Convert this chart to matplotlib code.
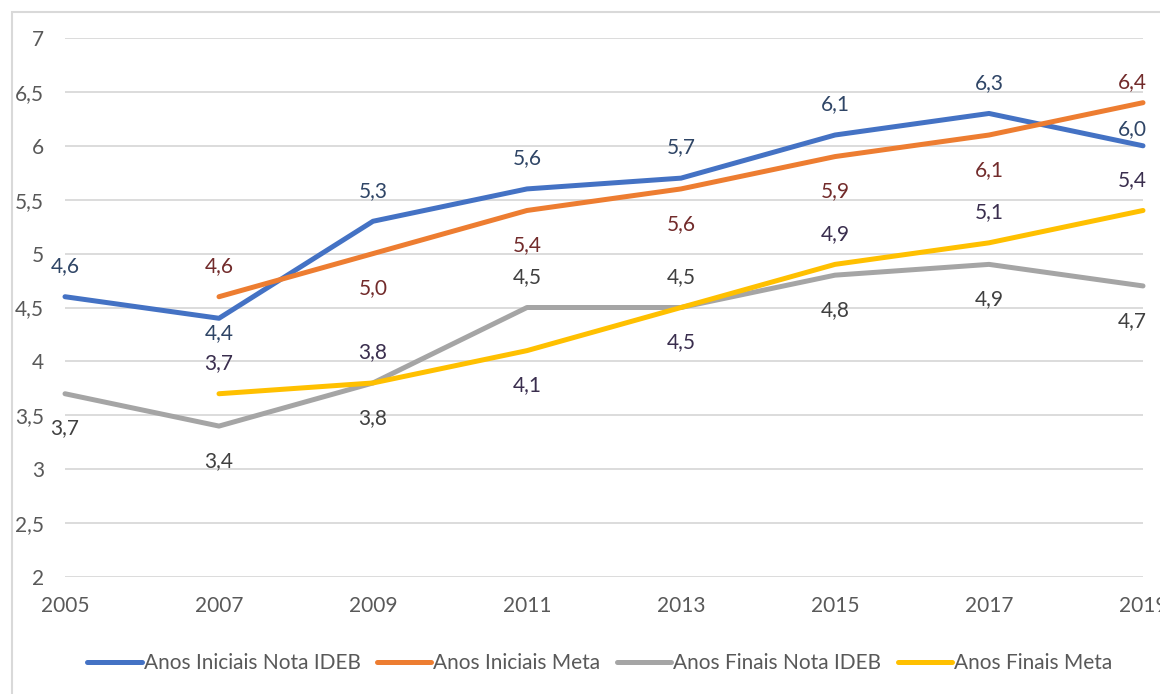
import matplotlib
matplotlib.use("Agg")
import matplotlib.pyplot as plt
from matplotlib.patches import Rectangle

plt.rcParams['font.family'] = ['Lato', 'DejaVu Sans']

anos = [2005, 2007, 2009, 2011, 2013, 2015, 2017, 2019]
iniciais_nota = [4.6, 4.4, 5.3, 5.6, 5.7, 6.1, 6.3, 6.0]
iniciais_meta = [None, 4.6, 5.0, 5.4, 5.6, 5.9, 6.1, 6.4]
finais_nota = [3.7, 3.4, 3.8, 4.5, 4.5, 4.8, 4.9, 4.7]
finais_meta = [None, 3.7, 3.8, 4.1, 4.5, 4.9, 5.1, 5.4]
nomes = ["Anos Iniciais Nota IDEB", "Anos Iniciais Meta",
         "Anos Finais Nota IDEB", "Anos Finais Meta"]
yticks = [2, 2.5, 3, 3.5, 4, 4.5, 5, 5.5, 6, 6.5, 7]

series = [iniciais_nota, iniciais_meta, finais_nota, finais_meta]
cores = ["#4472C4", "#ED7D31", "#A5A5A5", "#FFC000"]
cores_rot = ["#2F4566", "#722B2B", "#404040", "#3A2E4E"]
# label offsets in points (positive above, negative below)
A, B = 22, -25
deslocamentos = [
    [A, -11, A, A, A, A, A, 12],
    [A, A, B, B, B, B, B, 15],
    [B, B, B, A, A, B, B, B],
    [A, A, A, B, B, A, A, A],
]
FS = 15

fig = plt.figure(figsize=(11.6, 6.94), dpi=100)
fig.patches.append(Rectangle((12/1160, -0.1), 1.2, 1.1 - 12/694,
                             transform=fig.transFigure, fill=False,
                             edgecolor="#D9D9D9", lw=1.5))
ax = fig.add_axes([65/1160, 1 - 577/694, (1143 - 65)/1160, (577 - 38)/694])
ax.set_xlim(2005, 2019)
ax.set_ylim(2, 7)
ax.set_yticks(yticks)
ax.set_yticklabels([f"{v:g}".replace(".", ",") for v in yticks])
ax.set_xticks(anos)
ax.set_xticklabels([str(a) for a in anos])
for s in ax.spines.values():
    s.set_visible(False)
ax.grid(axis='y', color="#D9D9D9", lw=1.3)
ax.set_axisbelow(True)
ax.tick_params(length=0, labelsize=FS, colors="#595959")
ax.tick_params(axis='y', pad=15)
ax.tick_params(axis='x', pad=14)

for vals, cor, corr, desl, nome in zip(series, cores, cores_rot, deslocamentos, nomes):
    xs = [a for a, v in zip(anos, vals) if v is not None]
    ys = [v for v in vals if v is not None]
    ax.plot(xs, ys, color=cor, lw=3.6, label=nome, solid_capstyle='round',
            clip_on=False)
    for i, (a, v, d) in enumerate(zip(anos, vals, desl)):
        if v is None:
            continue
        dx = -8 if i == len(anos) - 1 else 0
        ax.annotate(f"{v:.1f}".replace(".", ","), (a, v),
                    xytext=(dx, d), textcoords="offset points",
                    ha="center", va="center", fontsize=FS, color=corr,
                    annotation_clip=False)

leg = fig.legend(loc="center", bbox_to_anchor=(600/1160, 1 - 663/694), ncol=4,
                 frameon=False, fontsize=FS, handlelength=2.6,
                 handletextpad=0.1, columnspacing=0.8, labelcolor="#595959")

fig.savefig("out.png", dpi=100)
